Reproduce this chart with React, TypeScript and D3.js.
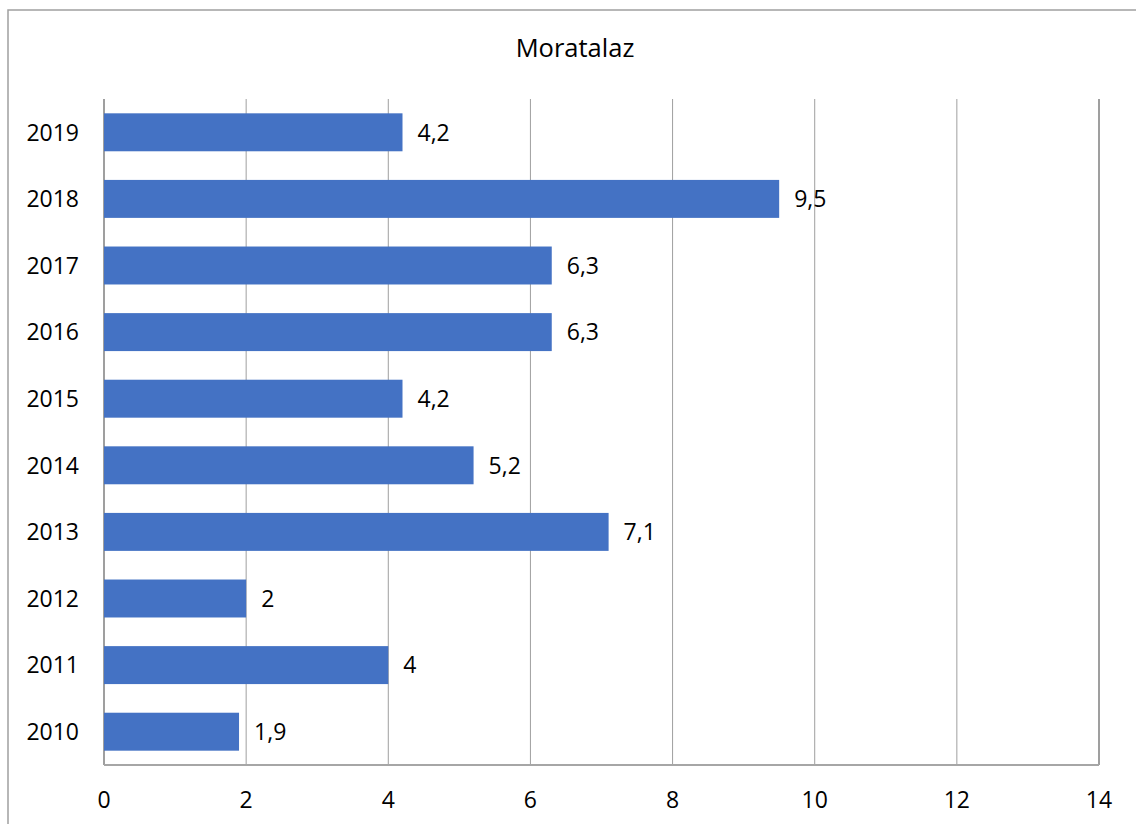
import React from "react";
import * as d3 from "d3";

const title = "Moratalaz";
const years = ["2019", "2018", "2017", "2016", "2015", "2014", "2013", "2012", "2011", "2010"];
const values = [4.2, 9.5, 6.3, 6.3, 4.2, 5.2, 7.1, 2, 4, 1.9];
const xTicks = [0, 2, 4, 6, 8, 10, 12, 14];

const W = 1136;
const H = 824;
const plot = { left: 104, right: 1099, top: 99, bottom: 765 };
const font = "'Open Sans', Calibri, sans-serif";

export default function App() {
  const x = d3.scaleLinear().domain([0, 14]).range([plot.left, plot.right]);
  const y = d3.scaleBand<string>().domain(years).range([plot.top, plot.bottom]).paddingInner(0.43).paddingOuter(0.215);
  const fmt = (v: number) => String(v).replace(".", ",");
  return (
    <svg width={W} height={H} style={{ position: "absolute", left: 0, top: 0, display: "block", background: "#fff" }}>
      <rect x={8} y={10} width={W + 20} height={H + 20} fill="#fff" stroke="#a0a0a0" strokeWidth={1.5} />
      <text x={575} y={57} textAnchor="middle" fontFamily={font} fontSize={25.5} fill="#000">{title}</text>
      {xTicks.map((t) => (
        <line key={"g" + t} x1={x(t)} x2={x(t)} y1={plot.top} y2={plot.bottom} stroke="#9f9f9f" strokeWidth={t === 0 || t === 14 ? 2 : 1} />
      ))}
      <line x1={plot.left} x2={plot.right} y1={plot.bottom} y2={plot.bottom} stroke="#a6a6a6" strokeWidth={2} />
      {years.map((yr, i) => (
        <rect key={"b" + yr} x={x(0)} y={y(yr)} width={x(values[i]) - x(0)} height={y.bandwidth()} fill="#4472C4" />
      ))}
      {years.map((yr, i) => (
        <text key={"l" + yr} x={x(values[i]) + 15} y={(y(yr) as number) + y.bandwidth() / 2} dy="0.36em" fontFamily={font} fontSize={23} fill="#000">{fmt(values[i])}</text>
      ))}
      {years.map((yr) => (
        <text key={"y" + yr} x={79} y={(y(yr) as number) + y.bandwidth() / 2} dy="0.36em" textAnchor="end" fontFamily={font} fontSize={23} fill="#000">{yr}</text>
      ))}
      {xTicks.map((t) => (
        <text key={"t" + t} x={x(t)} y={800} dy="0.36em" textAnchor="middle" fontFamily={font} fontSize={23} fill="#000">{t}</text>
      ))}
    </svg>
  );
}
